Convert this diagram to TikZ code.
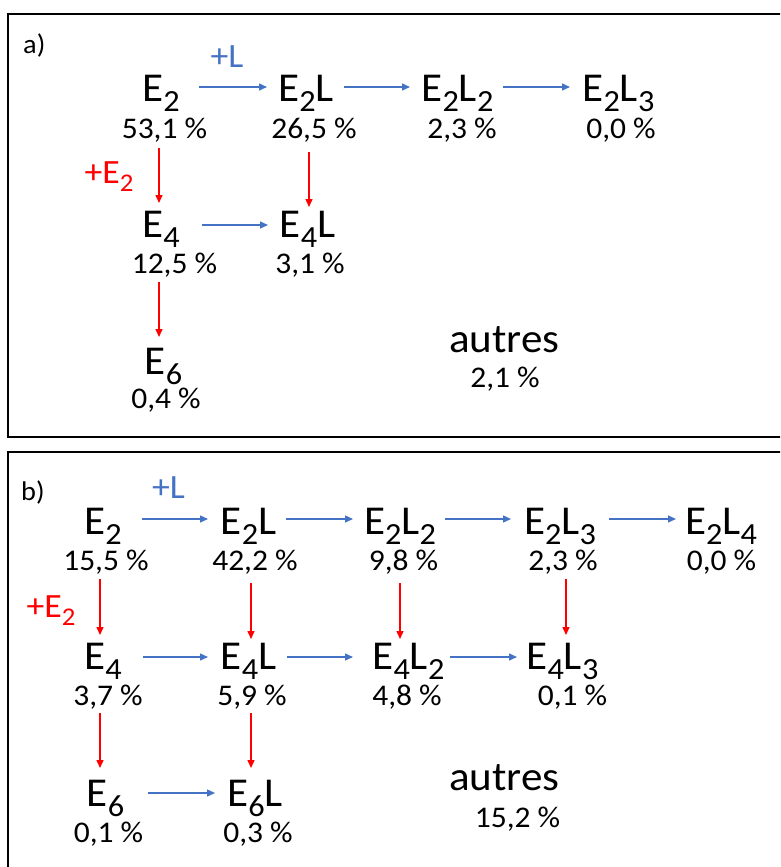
\documentclass[tikz,border=0pt]{standalone}
\usepackage{fontspec}
\setmainfont{Carlito}[FakeStretch=1.05]
\usetikzlibrary{arrows.meta}
\definecolor{lblue}{HTML}{4472C4}
\definecolor{lred}{HTML}{FF0000}
\newcommand\mysub[1]{\raisebox{-0.25em}{\scalebox{0.75}{#1}}}
\tikzset{
  chem/.style={font=\fontsize{41}{41}\selectfont, inner sep=0pt, anchor=base, text height=0.64em, text depth=0pt},
  pct/.style={font=\fontsize{30}{30}\selectfont, inner sep=0pt, anchor=base, text height=0.62em, text depth=0pt},
  lbl/.style={font=\fontsize{34}{34}\selectfont, inner sep=0pt, anchor=base, text height=0.64em, text depth=0pt},
  panellbl/.style={font=\fontsize{27}{27}\selectfont, inner sep=0pt, anchor=base west},
  barrow/.style={draw=lblue, line width=1.4pt, -{Triangle[length=8pt,width=7pt]}},
  rarrow/.style={draw=lred, line width=1.4pt, -{Triangle[length=8pt,width=7pt]}},
  panel/.style={draw=black, line width=2pt}
}
\begin{document}
\begin{tikzpicture}[x=1pt,y=-1pt]
\useasboundingbox (0,0) rectangle (780,867);
\clip (0,0) rectangle (780,867);
\draw[panel] (8,14) rectangle (800,437);
\draw[panel] (8,452) rectangle (800,900);

% ---------- panel a ----------
\node[panellbl] (alab) at (23,53) {a)};
\node[lbl, text=lblue] (aplusL) at (227,67) {+L};
\node[lbl, text=lred] (aplusE) at (109,183) {+E\mysub{2}};

\node[chem] (aE2)  at (161,101) {E\mysub{2}};
\node[chem] (aE2L) at (306,101) {E\mysub{2}L};
\node[chem] (aE2La) at (457.5,101) {E\mysub{2}L\mysub{2}};
\node[chem] (aE2Lb) at (618.5,101) {E\mysub{2}L\mysub{3}};
\node[pct] (ap1) at (164.5,138) {53,1 \%};
\node[pct] (ap2) at (314,138) {26,5 \%};
\node[pct] (ap3) at (462,138) {2,3 \%};
\node[pct] (ap4) at (621,138) {0,0 \%};

\node[chem] (aE4)  at (161,237) {E\mysub{4}};
\node[chem] (aE4L) at (307.5,237) {E\mysub{4}L};
\node[pct] (ap5) at (174.5,273) {12,5 \%};
\node[pct] (ap6) at (310,273) {3,1 \%};

\node[chem] (aE6) at (163.5,374) {E\mysub{6}};
\node[pct] (ap7) at (166,408) {0,4 \%};

\node[chem] (aaut) at (504.5,352) {autres};
\node[pct] (ap8) at (505,387) {2,1 \%};

\draw[barrow] ([xshift=38pt,yshift=14pt]aE2.base) -- ([xshift=-39pt,yshift=14pt]aE2L.base);
\draw[barrow] ([xshift=38pt,yshift=14pt]aE2L.base) -- ([xshift=-47.5pt,yshift=14pt]aE2La.base);
\draw[barrow] ([xshift=45.5pt,yshift=14pt]aE2La.base) -- ([xshift=-48.5pt,yshift=14pt]aE2Lb.base);
\draw[barrow] ([xshift=41pt,yshift=12pt]aE4.base) -- ([xshift=-39.5pt,yshift=12pt]aE4L.base);
\draw[rarrow] ([xshift=-5.5pt,yshift=-10pt]ap1.base) -- ([xshift=-2pt,yshift=34pt]aE4.base);
\draw[rarrow] ([xshift=-5pt,yshift=-14pt]ap2.base) -- ([xshift=1.5pt,yshift=30pt]aE4L.base);
\draw[rarrow] ([xshift=-15.5pt,yshift=-9pt]ap5.base) -- ([xshift=-4.5pt,yshift=37pt]aE6.base);

% ---------- panel b ----------
\node[panellbl] (blab) at (21,500) {b)};
\node[lbl, text=lblue] (bplusL) at (168.5,498) {+L};
\node[lbl, text=lred] (bplusE) at (51,617) {+E\mysub{2}};

\node[chem] (bE2)   at (103,534) {E\mysub{2}};
\node[chem] (bE2L)  at (248.5,534) {E\mysub{2}L};
\node[chem] (bE2La) at (400,534) {E\mysub{2}L\mysub{2}};
\node[chem] (bE2Lb) at (560,534) {E\mysub{2}L\mysub{3}};
\node[chem] (bE2Lc) at (721,534) {E\mysub{2}L\mysub{4}};
\node[pct] (bp1) at (106,570) {15,5 \%};
\node[pct] (bp2) at (255,570) {42,2 \%};
\node[pct] (bp3) at (403.5,570) {9,8 \%};
\node[pct] (bp4) at (563,570) {2,3 \%};
\node[pct] (bp5) at (721.5,570) {0,0 \%};

\node[chem] (bE4)   at (103,669) {E\mysub{4}};
\node[chem] (bE4L)  at (248.5,669) {E\mysub{4}L};
\node[chem] (bE4La) at (408.5,669) {E\mysub{4}L\mysub{2}};
\node[chem] (bE4Lb) at (562.5,669) {E\mysub{4}L\mysub{3}};
\node[pct] (bp6) at (108,705) {3,7 \%};
\node[pct] (bp7) at (252,705) {5,9 \%};
\node[pct] (bp8) at (407,705) {4,8 \%};
\node[pct] (bp9) at (572.5,705) {0,1 \%};

\node[chem] (bE6)  at (105.5,806) {E\mysub{6}};
\node[chem] (bE6L) at (255,806) {E\mysub{6}L};
\node[pct] (bp10) at (108.5,842) {0,1 \%};
\node[pct] (bp11) at (258,842) {0,3 \%};

\node[chem] (baut) at (504.5,790) {autres};
\node[pct] (bp12) at (517.5,827) {15,2 \%};

\draw[barrow] ([xshift=39pt,yshift=15pt]bE2.base) -- ([xshift=-40.5pt,yshift=15pt]bE2L.base);
\draw[barrow] ([xshift=37.5pt,yshift=15pt]bE2L.base) -- ([xshift=-47pt,yshift=15pt]bE2La.base);
\draw[barrow] ([xshift=45pt,yshift=15pt]bE2La.base) -- ([xshift=-49pt,yshift=15pt]bE2Lb.base);
\draw[barrow] ([xshift=49pt,yshift=15pt]bE2Lb.base) -- ([xshift=-45pt,yshift=15pt]bE2Lc.base);
\draw[barrow] ([xshift=40pt,yshift=12pt]bE4.base) -- ([xshift=-40.5pt,yshift=12pt]bE4L.base);
\draw[barrow] ([xshift=38.5pt,yshift=12pt]bE4L.base) -- ([xshift=-55.5pt,yshift=12pt]bE4La.base);
\draw[barrow] ([xshift=41.5pt,yshift=12pt]bE4La.base) -- ([xshift=-45.5pt,yshift=12pt]bE4Lb.base);
\draw[barrow] ([xshift=42.5pt,yshift=13pt]bE6.base) -- ([xshift=-40pt,yshift=13pt]bE6L.base);

\draw[rarrow] ([xshift=-6pt,yshift=-9pt]bp1.base) -- ([xshift=-3pt,yshift=34pt]bE4.base);
\draw[rarrow] ([xshift=-4pt,yshift=-13pt]bp2.base) -- ([xshift=2.5pt,yshift=30pt]bE4L.base);
\draw[rarrow] ([xshift=-3.5pt,yshift=-13pt]bp3.base) -- ([xshift=-8.5pt,yshift=30pt]bE4La.base);
\draw[rarrow] ([xshift=3pt,yshift=-9pt]bp4.base) -- ([xshift=3.5pt,yshift=34pt]bE4Lb.base);
\draw[rarrow] ([xshift=-8pt,yshift=-8pt]bp6.base) -- ([xshift=-5.5pt,yshift=38pt]bE6.base);
\draw[rarrow] ([xshift=-1pt,yshift=-8pt]bp7.base) -- ([xshift=-4pt,yshift=38pt]bE6L.base);
\end{tikzpicture}
\end{document}
